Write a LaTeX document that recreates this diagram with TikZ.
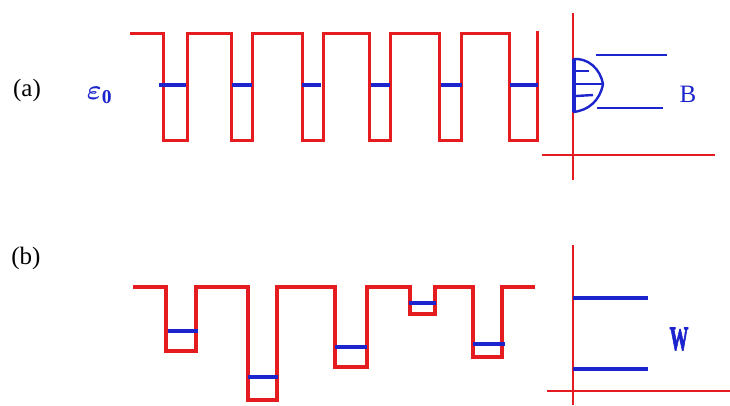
\documentclass[tikz,border=0pt]{standalone}
\usepackage{amsmath}
\usepackage{bm}
\usepackage{graphicx}
\usepackage{fontspec}
\setmainfont{Liberation Serif}
\newfontfamily\heavyfont{Liberation Serif Bold}[FakeBold=3]
\definecolor{wellred}{RGB}{228,28,32}
\definecolor{levelblue}{RGB}{28,36,205}
\tikzstyle{wall} = [
    draw=wellred,
    line width=3pt,
    line join=miter
]
\tikzstyle{axis} = [
    draw=wellred,
    line width=2.4pt
]
\tikzstyle{level} = [
    draw=levelblue,
    line width=3.6pt
]
\tikzstyle{thinlevel} = [
    draw=levelblue,
    line width=2.4pt
]
\tikzstyle{panellabel} = [
    font=\fontsize{25}{30}\selectfont,
    inner sep=0pt
]
\tikzstyle{bluelabel} = [
    text=levelblue,
    inner sep=0pt
]

\begin{document}
\begin{tikzpicture}[x=1pt,y=-1pt]
\useasboundingbox (0,0) rectangle (730,405);

% (a) regular lattice of identical wells
\node (lbla) [panellabel] at (27,90) {(a)};
\node (eps) [bluelabel] at (100,95) {\scalebox{2.8}{$\bm{\varepsilon}_{\mathbf{0}}$}};

\draw [wall] (130,33) -- (163,33) -- (163,140) -- (187,140) -- (187,33)
    -- (231,33) -- (231,140) -- (252,140) -- (252,33)
    -- (302,33) -- (302,140) -- (323,140) -- (323,33)
    -- (369,33) -- (369,140) -- (390,140) -- (390,33)
    -- (439,33) -- (439,140) -- (461,140) -- (461,33)
    -- (509,33) -- (509,140) -- (537,140) -- (537,31);

\draw [level] (159,85) -- (186,85);
\draw [level] (232,85) -- (252,85);
\draw [level] (302,85) -- (321,85);
\draw [level] (371,85) -- (390,85);
\draw [level] (441,85) -- (462,85);
\draw [level] (510,85) -- (538,85);

\draw [axis] (573,13) -- (573,180);
\draw [axis] (542,155) -- (715,155);
\draw [thinlevel] (573,59) to[out=5,in=100] (603,84) to[out=-100,in=5] (573,112);
\draw [thinlevel, line width=3.4pt] (574,59) -- (574,112);
\draw [thinlevel] (573,71) -- (589,71);
\draw [thinlevel] (573,84) -- (603,84);
\draw [thinlevel] (576,96) -- (593,95);
\draw [thinlevel] (596,55) -- (667,55);
\draw [draw=levelblue, line width=2pt] (597,108) -- (663,108);
\node (bandB) [bluelabel, font=\fontsize{25}{30}\selectfont] at (688,94) {B};

% (b) random wells of different depths
\node (lblb) [panellabel] at (26,258) {(b)};

\draw [wall, line width=3.6pt] (133,287) -- (166,287) -- (166,351) -- (196,351) -- (196,287)
    -- (248,287) -- (248,400) -- (277,400) -- (277,287)
    -- (335,287) -- (335,367) -- (367,367) -- (367,287)
    -- (410,287) -- (410,314) -- (435,314) -- (435,287)
    -- (473,287) -- (473,357) -- (502,357) -- (502,287) -- (535,287);

\draw [level] (168,331) -- (198,331);
\draw [level] (248,377) -- (278,377);
\draw [level] (335,347) -- (367,347);
\draw [level] (409,303) -- (436,303);
\draw [level] (473,344) -- (505,344);

\draw [axis] (573,245) -- (573,405);
\draw [axis] (547,391) -- (730,391);
\draw [level] (573,298) -- (648,298);
\draw [level] (573,369) -- (648,369);
\node (bandW) [bluelabel, font=\fontsize{34}{40}\heavyfont] at (679,339) {\scalebox{0.55}[1]{W}};

\end{tikzpicture}
\end{document}
